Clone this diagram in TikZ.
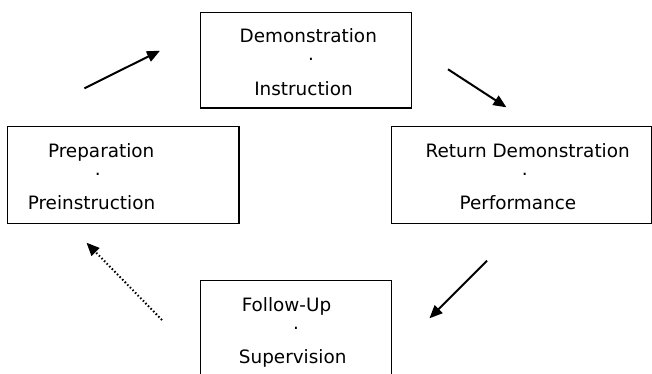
\documentclass[tikz,border=0pt]{standalone}
\usepackage{fontspec}
\setmainfont{DejaVu Sans}
\usetikzlibrary{arrows.meta}

\tikzset{
	stage/.style={draw, line width=1.2pt, inner sep=0pt, anchor=north west},
	txt/.style={font=\fontsize{18.4}{20}\selectfont, inner sep=0pt, anchor=base},
	flow/.style={line width=2pt, -{Triangle[length=13pt,width=11pt]}},
}

\begin{document}
\begin{tikzpicture}[x=1pt,y=-1pt]
	\useasboundingbox (0,0) rectangle (652,373);
	
	\node[stage, minimum width=211pt, minimum height=95.6pt] (demo) at (199.6,11.7) {};
	\node[stage, minimum width=231.6pt, minimum height=96.7pt] (prep) at (6.7,126) {};
	\node[stage, minimum width=260pt, minimum height=96.7pt] (ret) at (391,126) {};
	\node[stage, minimum width=191.4pt, minimum height=110pt] (follow) at (199.6,280) {};
	
	\node[txt] (demoA) at (308.3,42.7) {Demonstration};
	\node[txt] (demoB) at (311,60.5) {.};
	\node[txt] (demoC) at (303.5,95) {Instruction};
	
	\node[txt] (prepA) at (101.2,157.3) {Preparation};
	\node[txt] (prepB) at (97.7,175) {.};
	\node[txt] (prepC) at (91.5,209.3) {Preinstruction};
	
	\node[txt] (retA) at (527.7,157.3) {Return Demonstration};
	\node[txt] (retB) at (524.7,175) {.};
	\node[txt] (retC) at (517.9,209.3) {Performance};
	
	\node[txt] (followA) at (286.5,311.7) {Follow-Up};
	\node[txt] (followB) at (296,329.5) {.};
	\node[txt] (followC) at (292.7,363.3) {Supervision};
	
	\coordinate (a1) at (84.4,88.3);
	\coordinate (a2) at (160,50.7);
	\coordinate (b1) at (448,69.3);
	\coordinate (b2) at (506.4,107.3);
	\coordinate (c1) at (487,260.7);
	\coordinate (c2) at (429.5,318.3);
	\coordinate (d1) at (162,320);
	\coordinate (d2) at (86.5,242.7);
	
	\draw[flow] (a1) -- (a2);
	\draw[flow] (b1) -- (b2);
	\draw[flow] (c1) -- (c2);
	\draw[flow, dash pattern=on 1.5pt off 2.2pt] (d1) -- (d2);
	
\end{tikzpicture}
\end{document}
